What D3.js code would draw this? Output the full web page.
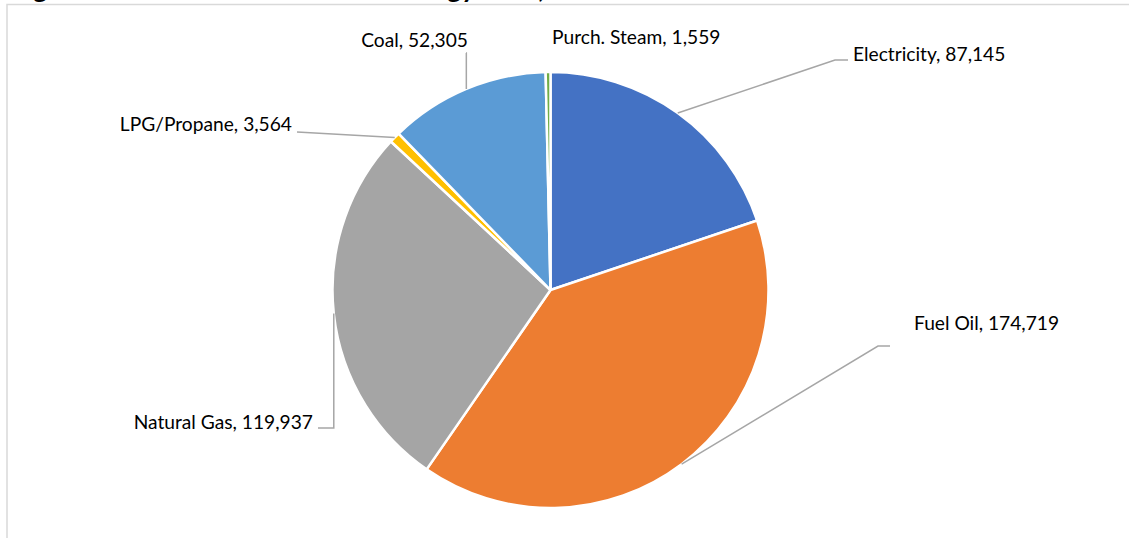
<!DOCTYPE html>
<html>
<head>
<meta charset="utf-8">
<script src="https://cdn.jsdelivr.net/npm/d3@7"></script>
<style>
  html, body { margin: 0; padding: 0; background: #fff; }
  svg { display: block; }
</style>
</head>
<body>
<svg id="chart" width="1129" height="538"></svg>
<script>
// ---- data ----
const categories = ["Electricity", "Fuel Oil", "Natural Gas", "LPG/Propane", "Coal", "Purch. Steam"];
const values = [87145, 174719, 119937, 3564, 52305, 1559];
const colors = ["#4472C4", "#ED7D31", "#A5A5A5", "#FFC000", "#5B9BD5", "#70AD47"];
// title fragments visible above the frame (rest is cut off)
const titleFragments = ["g", "gy", ","];

// ---- layout (label placement, not data) ----
const labelLayout = [
  { x: 853, y: 61,  anchor: "start", elbow: [835, 60],  end: [848, 60] },
  { x: 914, y: 330, anchor: "start", elbow: [878, 346], end: [890, 346] },
  { x: 313, y: 429, anchor: "end",   elbow: [331, 428], end: [318, 428], vertical: true },
  { x: 292, y: 131, anchor: "end",   elbow: [297, 132], end: [297, 132] },
  { x: 468, y: 47,  anchor: "end",   elbow: [466, 53],  end: [466, 53], vertical: true },
  { x: 552, y: 44,  anchor: "start", none: true }
];
const titleX = [33, 447, 538];

const svg = d3.select("#chart");
const W = 1129, H = 538;
const cx = 550.5, cy = 290, R = 218;

// title fragments (clipped by frame top, as in the reference)
svg.append("clipPath").attr("id", "tclip")
  .append("rect").attr("x", 0).attr("y", 0).attr("width", W).attr("height", 4);
svg.append("g").attr("clip-path", "url(#tclip)")
  .selectAll("text").data(titleFragments).join("text")
  .attr("x", (d, i) => titleX[i]).attr("y", -2)
  .attr("font-family", "Lato, 'Liberation Sans', sans-serif")
  .attr("font-weight", "bold").attr("font-size", 27).attr("fill", "#000")
  .text(d => d);

// frame
svg.append("path")
  .attr("d", `M7,${H} L7,4.5 L${W},4.5`)
  .attr("fill", "none").attr("stroke", "#d9d9d9").attr("stroke-width", 1.5);

const data = categories.map((c, i) => ({ name: c, value: values[i], color: colors[i], layout: labelLayout[i] }));

const pie = d3.pie().value(d => d.value).sort(null).startAngle(0).endAngle(2 * Math.PI);
const arcs = pie(data);
const arc = d3.arc().innerRadius(0).outerRadius(R);

const g = svg.append("g").attr("transform", `translate(${cx},${cy})`);
g.selectAll("path.slice").data(arcs).join("path")
  .attr("class", "slice")
  .attr("d", arc)
  .attr("fill", d => d.data.color)
  .attr("stroke", "#fff").attr("stroke-width", 2.5).attr("stroke-linejoin", "round");

// leader lines
const fmt = d3.format(",");
arcs.forEach(a => {
  const L = a.data.layout;
  if (L.none) return;
  const mid = (a.startAngle + a.endAngle) / 2;
  const ex = cx + R * Math.sin(mid), ey = cy - R * Math.cos(mid);
  let pts;
  if (L.vertical) pts = [[ex, ey], [ex, L.elbow[1]], L.end];
  else pts = [[ex, ey], L.elbow, L.end];
  svg.append("path")
    .attr("d", d3.line()(pts))
    .attr("fill", "none").attr("stroke", "#a6a6a6").attr("stroke-width", 1.5);
});

// labels
svg.selectAll("text.lbl").data(arcs).join("text")
  .attr("class", "lbl")
  .attr("x", d => d.data.layout.x)
  .attr("y", d => d.data.layout.y)
  .attr("text-anchor", d => d.data.layout.anchor)
  .attr("font-family", "Lato, 'Liberation Sans', sans-serif")
  .attr("font-size", 19.2)
  .attr("fill", "#000")
  .text(d => `${d.data.name}, ${fmt(d.data.value)}`);
</script>
</body>
</html>
